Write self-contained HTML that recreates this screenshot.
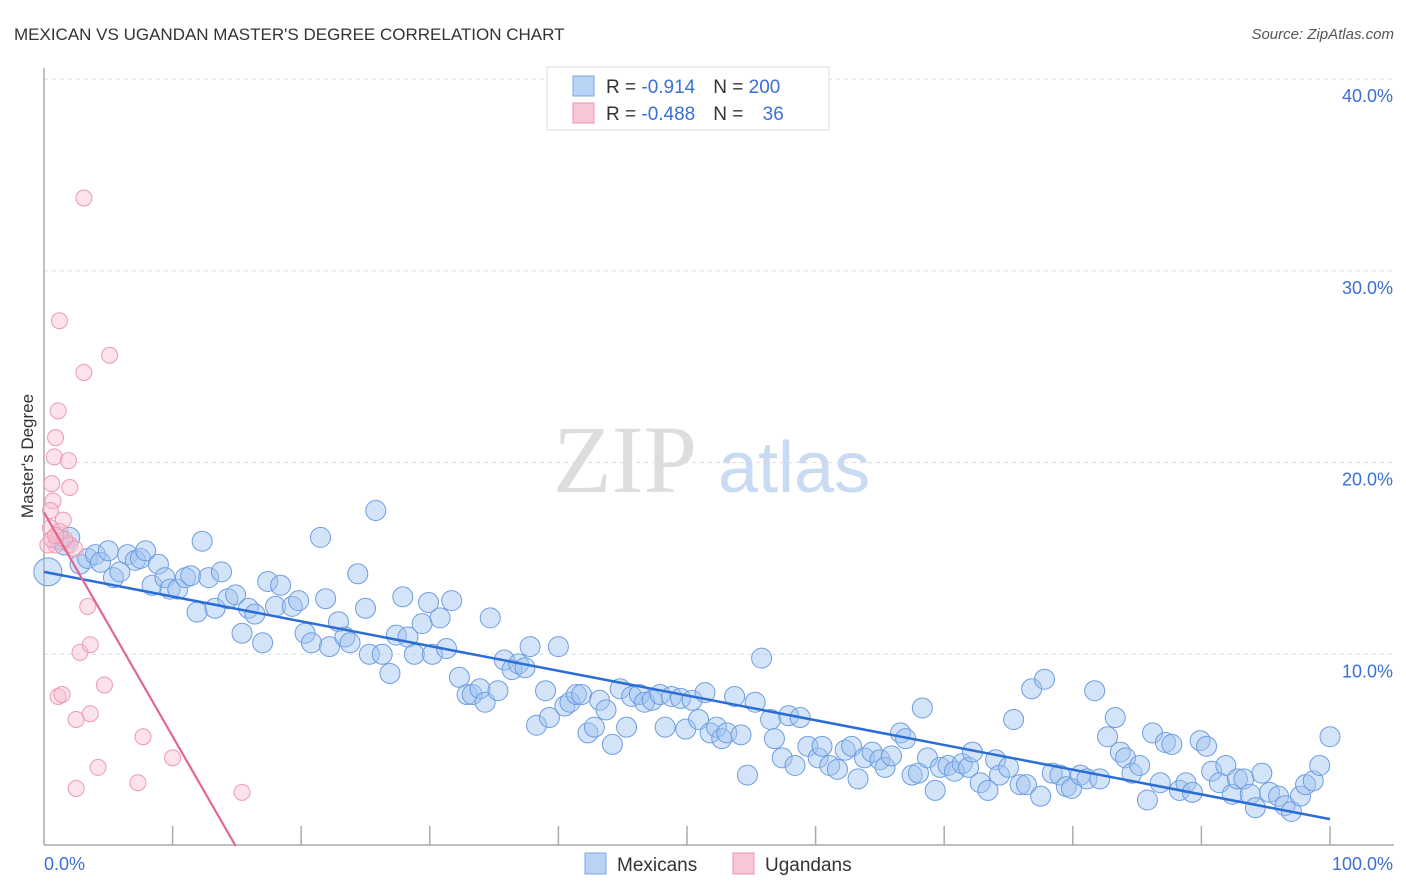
<!DOCTYPE html>
<html><head><meta charset="utf-8"><style>
body{margin:0;background:#fff;}
svg{display:block;font-family:"Liberation Sans",sans-serif;}
</style></head><body>
<svg id="chart" width="1406" height="892" viewBox="0 0 1406 892">
<text x="14" y="40" font-size="17" fill="#333">MEXICAN VS UGANDAN MASTER'S DEGREE CORRELATION CHART</text>
<text x="1394" y="39" font-size="15" fill="#555" font-style="italic" text-anchor="end">Source: ZipAtlas.com</text>
<g>
<text x="553" y="492" font-size="96" font-family="Liberation Serif,serif" fill="#ddd">ZIP</text>
<text x="718" y="492" font-size="72" fill="#c9daf3">atlas</text>
</g>
<g id="grid"></g>
<g id="axes"></g>
<g id="blue"></g>
<g id="pink"></g>
<g id="lines"></g>
<g>
<rect x="547" y="67" width="282" height="63" fill="#fff" stroke="#ddd"/>
<rect x="573" y="76" width="21" height="20" fill="#b9d3f6" stroke="#7fa7e3"/>
<rect x="573" y="103" width="21" height="20" fill="#f9c6d5" stroke="#e995b0"/>
<text x="606" y="93" font-size="19" fill="#333">R = <tspan fill="#3b6fd4"> -0.914</tspan><tspan dx="18">N = </tspan><tspan fill="#3b6fd4">200</tspan></text>
<text x="606" y="120" font-size="19" fill="#333">R = <tspan fill="#3b6fd4">-0.488</tspan><tspan dx="18">N = </tspan><tspan fill="#3b6fd4" dx="14">36</tspan></text>
</g>
<g>
<rect x="585" y="853" width="21" height="21" fill="#b9d3f6" stroke="#7fa7e3"/>
<text x="617" y="871" font-size="19" fill="#333">Mexicans</text>
<rect x="733" y="853" width="21" height="21" fill="#f9c6d5" stroke="#e995b0"/>
<text x="765" y="871" font-size="19" fill="#333">Ugandans</text>
</g>
<text transform="translate(33,456) rotate(-90)" font-size="17" fill="#333" text-anchor="middle">Master's Degree</text>
</svg>
<script>
const yTicks=[10,20,30,40];
const yTickLabels=["10.0%","20.0%","30.0%","40.0%"];
const xTickLabels=["0.0%","100.0%"];
const blueX=[0.3,1.2,1.6,2.0,2.8,3.4,4.0,4.4,5.0,5.4,5.9,6.5,7.1,7.5,7.9,8.4,8.9,9.4,9.8,10.4,11.0,11.4,11.9,12.3,12.8,13.3,13.8,14.3,14.9,15.4,15.9,16.4,17.0,17.4,18.0,18.4,19.3,19.8,20.3,20.8,21.5,21.9,22.2,22.9,23.4,23.8,24.4,25.0,25.3,25.8,26.3,26.9,27.4,27.9,28.3,28.8,29.4,29.9,30.2,30.8,31.3,31.7,32.3,32.9,33.3,33.9,34.3,34.7,35.3,35.8,36.4,36.9,37.4,37.8,38.3,39.0,39.3,40.0,40.5,40.9,41.4,41.8,42.3,42.8,43.2,43.7,44.2,44.8,45.3,45.7,46.3,46.7,47.3,47.9,48.3,48.8,49.5,49.9,50.4,50.9,51.4,51.8,52.3,52.7,53.1,53.7,54.2,54.7,55.3,55.8,56.5,56.8,57.4,57.9,58.4,58.8,59.4,60.2,60.5,61.1,61.7,62.3,62.8,63.3,63.8,64.4,65.0,65.4,65.9,66.6,67.0,67.5,68.0,68.3,68.7,69.3,69.7,70.3,70.8,71.4,71.9,72.2,72.8,73.4,74.0,74.3,75.0,75.4,75.9,76.4,76.8,77.5,77.8,78.4,79.0,79.5,79.9,80.6,81.1,81.7,82.1,82.7,83.3,83.7,84.1,84.6,85.2,85.8,86.2,86.8,87.2,87.7,88.3,88.8,89.3,89.9,90.4,90.8,91.4,91.9,92.4,92.8,93.3,93.8,94.2,94.7,95.3,96.0,96.5,97.0,97.7,98.1,98.7,99.2,100];
const blueY=[14.3,16.0,15.7,16.1,14.7,15.0,15.2,14.8,15.4,14.0,14.3,15.2,14.9,15.0,15.4,13.6,14.7,14.0,13.4,13.4,14.0,14.1,12.2,15.9,14.0,12.4,14.3,12.9,13.1,11.1,12.4,12.1,10.6,13.8,12.5,13.6,12.5,12.8,11.1,10.6,16.1,12.9,10.4,11.7,10.9,10.6,14.2,12.4,10.0,17.5,10.0,9.0,11.0,13.0,10.9,10.0,11.6,12.7,10.0,11.9,10.3,12.8,8.8,7.9,7.9,8.2,7.5,11.9,8.1,9.7,9.2,9.5,9.3,10.4,6.3,8.1,6.7,10.4,7.3,7.5,7.9,7.9,5.9,6.2,7.6,7.1,5.3,8.2,6.2,7.8,7.9,7.5,7.6,7.9,6.2,7.8,7.7,6.1,7.6,6.6,8.0,5.9,6.2,5.6,5.9,7.8,5.8,3.7,7.5,9.8,6.6,5.6,4.6,6.8,4.2,6.7,5.2,4.6,5.2,4.2,4.0,5.0,5.2,3.5,4.6,4.9,4.5,4.1,4.7,5.9,5.6,3.7,3.8,7.2,4.6,2.9,4.1,4.2,3.9,4.3,4.1,4.9,3.3,2.9,4.5,3.7,4.1,6.6,3.2,3.2,8.2,2.6,8.7,3.8,3.7,3.1,3.0,3.7,3.5,8.1,3.5,5.7,6.7,4.9,4.6,3.8,4.2,2.4,5.9,3.3,5.4,5.3,2.9,3.3,2.8,5.5,5.2,3.9,3.3,4.2,2.7,3.5,3.5,2.7,2.0,3.8,2.8,2.6,2.1,1.8,2.6,3.2,3.4,4.2,5.7];
const pinkX=[3.1,1.2,5.1,3.1,1.1,0.9,0.8,1.9,2.0,0.6,0.7,0.5,1.5,0.5,1.2,0.9,0.3,2.0,3.4,2.8,3.6,4.7,1.1,1.4,2.5,3.6,7.7,4.2,10.0,7.3,2.5,15.4,0.6,1.6,2.4,0.9];
const pinkY=[33.8,27.4,25.6,24.7,22.7,21.3,20.3,20.1,18.7,18.9,18.0,17.5,17.0,16.6,16.4,15.7,15.7,15.7,12.5,10.1,10.5,8.4,7.8,7.9,6.6,6.9,5.7,4.1,4.6,3.3,3.0,2.8,16.0,16.0,15.5,16.2];
const blueTrend=[14.3,1.4];
const pinkTrend=[17.4,0,14.9];
const NS="http://www.w3.org/2000/svg";
const X0=44,X1=1330,Y0=846,PY=19.17;
const sx=v=>X0+(X1-X0)*v/100;
const sy=v=>Y0-v*PY;
function mk(tag,parent,attrs){const e=document.createElementNS(NS,tag);for(const k in attrs)e.setAttribute(k,attrs[k]);parent.appendChild(e);return e;}
const grid=document.getElementById('grid'),axes=document.getElementById('axes');
yTicks.forEach((t,i)=>{
  const l=mk('line',grid,{x1:44,x2:1394,y1:sy(t),y2:sy(t),stroke:'#ddd','stroke-dasharray':'4,4'});
  
  
  const tx=mk('text',axes,{x:1393,y:sy(t)+23,'font-size':18,fill:'#3b6fd4','text-anchor':'end'});
  tx.textContent=yTickLabels[i];
  
  
});
mk('line',axes,{x1:44,x2:44,y1:68,y2:845,stroke:'#aaa','stroke-width':1.5});
mk('line',axes,{x1:44,x2:1394,y1:845,y2:845,stroke:'#aaa','stroke-width':1.5});
for(let i=1;i<=10;i++){const tk=mk('line',axes,{x1:sx(i*10),x2:sx(i*10),y1:826,y2:845,stroke:'#aaa','stroke-width':1.5});

}
const xl0=mk('text',axes,{x:44,y:870,'font-size':18,fill:'#3b6fd4'});xl0.textContent=xTickLabels[0];


const xl1=mk('text',axes,{x:1393,y:870,'font-size':18,fill:'#3b6fd4','text-anchor':'end'});xl1.textContent=xTickLabels[1];


const gb=document.getElementById('blue');
blueX.forEach((x,i)=>{const c=mk('circle',gb,{cx:sx(x),cy:sy(blueY[i]),r:i===0?14:10,fill:'rgba(160,196,240,0.45)',stroke:'#6d9de0','stroke-width':1});

});
const gp=document.getElementById('pink');
pinkX.forEach((x,i)=>{const c=mk('circle',gp,{cx:sx(x),cy:sy(pinkY[i]),r:8,fill:'rgba(248,190,208,0.45)',stroke:'#ec9ab4','stroke-width':1});

});
const gl=document.getElementById('lines');
const bl=mk('line',gl,{x1:sx(0),y1:sy(blueTrend[0]),x2:sx(100),y2:sy(blueTrend[1]),stroke:'#2b6dd6','stroke-width':2.5});


const pl=mk('line',gl,{x1:sx(0),y1:sy(pinkTrend[0]),x2:sx(pinkTrend[2]),y2:sy(pinkTrend[1]),stroke:'#e4668f','stroke-width':2.2});


</script>
</body></html>
